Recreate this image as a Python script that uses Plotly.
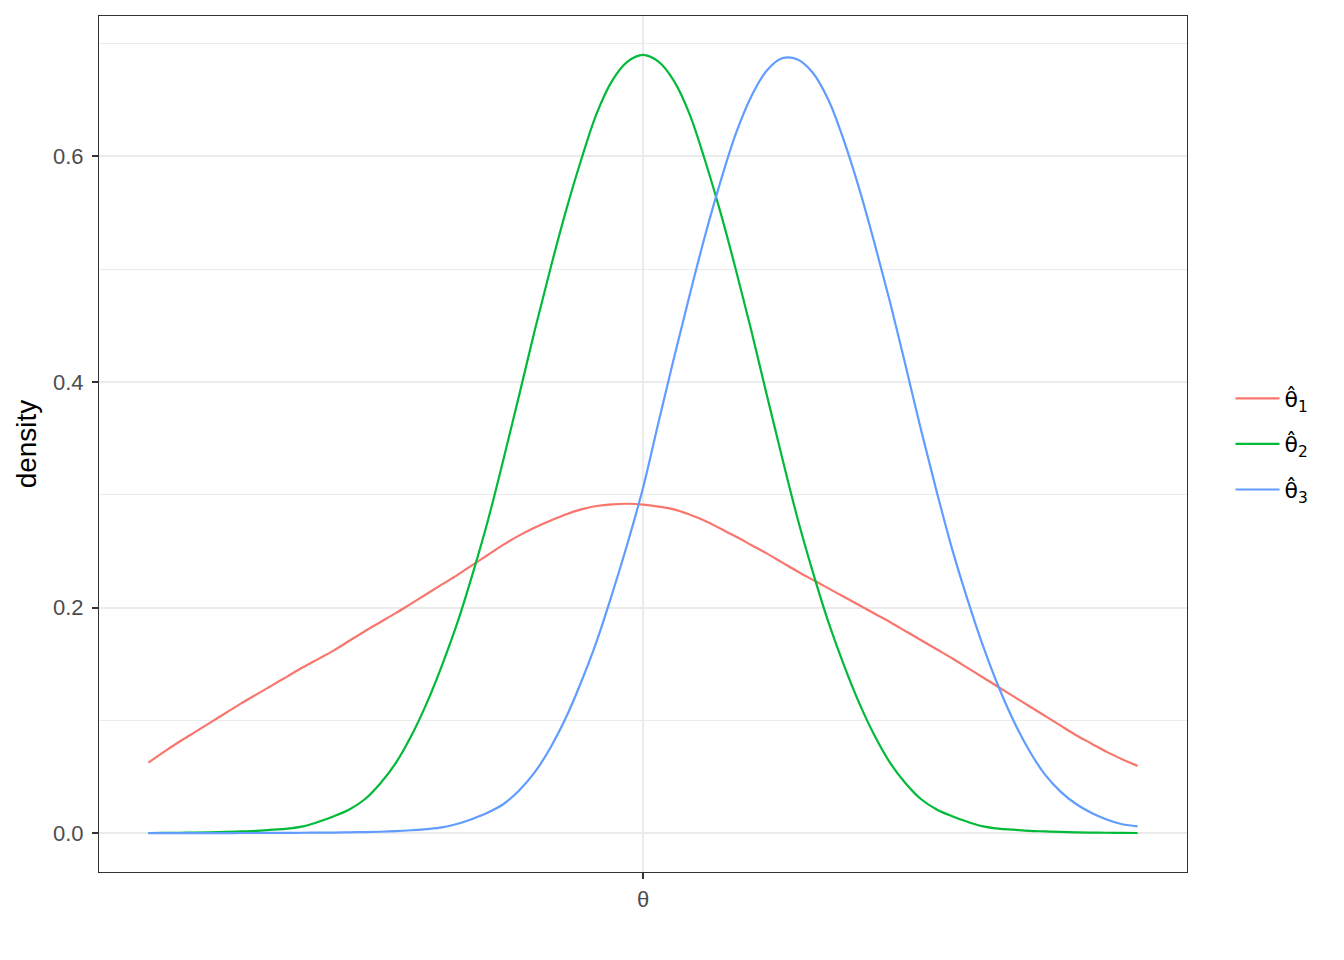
import plotly.graph_objects as go

# values (x in arbitrary units, theta at 0)
x_vals = [-4.0, -3.875, -3.75, -3.625, -3.5, -3.375, -3.25, -3.125, -3.0, -2.875, -2.75,
          -2.625, -2.5, -2.375, -2.25, -2.125, -2.0, -1.875, -1.75, -1.625, -1.5, -1.375,
          -1.25, -1.125, -1.0, -0.875, -0.75, -0.625, -0.5, -0.375, -0.25, -0.125, 0.0,
          0.125, 0.25, 0.375, 0.5, 0.625, 0.75, 0.875, 1.0, 1.125, 1.25, 1.375, 1.5,
          1.625, 1.75, 1.875, 2.0, 2.125, 2.25, 2.375, 2.5, 2.625, 2.75, 2.875, 3.0,
          3.125, 3.25, 3.375, 3.5, 3.625, 3.75, 3.875, 4.0]

theta1 = [0.0625, 0.072, 0.081, 0.0895, 0.098, 0.1065, 0.115, 0.123, 0.131, 0.139, 0.147,
          0.1545, 0.162, 0.1705, 0.179, 0.187, 0.195, 0.2035, 0.212, 0.2205, 0.229, 0.238,
          0.247, 0.256, 0.264, 0.271, 0.277, 0.2825, 0.287, 0.290, 0.2915, 0.292, 0.2913,
          0.2895, 0.287, 0.2825, 0.277, 0.270, 0.263, 0.2555, 0.248, 0.240, 0.232, 0.2245, 0.217,
          0.2095, 0.202, 0.1945, 0.187, 0.179, 0.171, 0.163, 0.155, 0.1465, 0.138, 0.1295, 0.121,
          0.1125, 0.104, 0.0955, 0.087, 0.0795, 0.072, 0.0655, 0.0596]

theta2 = [0.0001, 0.0002, 0.0003, 0.0005, 0.0007, 0.001, 0.0015, 0.002, 0.003, 0.004, 0.006,
          0.010, 0.015, 0.021, 0.030, 0.044, 0.062, 0.086, 0.115, 0.149, 0.187, 0.231,
          0.279, 0.333, 0.389, 0.446, 0.500, 0.551, 0.597, 0.638, 0.667, 0.684, 0.690,
          0.684, 0.667, 0.638, 0.597, 0.551, 0.500, 0.446, 0.389, 0.333, 0.279, 0.231, 0.187,
          0.149, 0.115, 0.086, 0.062, 0.044, 0.030, 0.021, 0.015, 0.010, 0.006, 0.004, 0.003,
          0.002, 0.0015, 0.001, 0.0007, 0.0005, 0.0003, 0.0002, 0.0001]

theta3 = [0.0, 0.0, 0.0, 0.0, 0.0, 0.0, 0.0001, 0.0001, 0.0002, 0.0002, 0.0003,
          0.0004, 0.0005, 0.0007, 0.0009, 0.0012, 0.0017, 0.0025, 0.0035, 0.005, 0.0083, 0.0128,
          0.0184, 0.026, 0.038, 0.054, 0.0755, 0.102, 0.134, 0.170, 0.212, 0.257, 0.306,
          0.364, 0.421, 0.476, 0.529, 0.577, 0.620, 0.653, 0.676, 0.687, 0.686, 0.674, 0.650,
          0.614, 0.571, 0.522, 0.470, 0.414, 0.357, 0.303, 0.252, 0.207, 0.166, 0.130, 0.099,
          0.073, 0.052, 0.037, 0.026, 0.018, 0.012, 0.0078, 0.006]

names = ['θ̂<sub>1</sub>', 'θ̂<sub>2</sub>', 'θ̂<sub>3</sub>']
colors = ['#F8766D', '#00BA38', '#619CFF']

fig = go.Figure()
for i, (name, ys, col) in enumerate(zip(names, [theta1, theta2, theta3], colors)):
    fig.add_trace(go.Scatter(
        x=x_vals,
        y=ys,
        mode='lines',
        name=name,
        legendgroup='g%d' % i,
        line=dict(color=col, width=2.2, shape='spline', smoothing=1.0)
    ))

fig.update_layout(
    width=1344,
    height=960,
    margin=dict(l=91, r=165, t=8, b=96),
    plot_bgcolor='white',
    paper_bgcolor='white',
    font=dict(family='Liberation Sans, Arial', color='black'),
    showlegend=True,
    legend=dict(x=1.04, xanchor='left', y=0.5, yanchor='middle',
                font=dict(size=22, color='black', family='DejaVu Sans'),
                itemwidth=44,
                bgcolor='rgba(0,0,0,0)', tracegroupgap=14),
    xaxis=dict(
        range=[-4.4, 4.4],
        tickvals=[0],
        ticktext=['θ'],
        tickfont=dict(size=22, color='#4D4D4D'),
        ticks='outside', ticklen=6, tickcolor='#333333', tickwidth=1.5,
        ticklabelstandoff=2,
        showgrid=True, gridcolor='#EBEBEB', gridwidth=1.5,
        zeroline=False,
        showline=True, linecolor='#333333', linewidth=1, mirror=True,
    ),
    yaxis=dict(
        range=[-0.0345, 0.7245],
        tickvals=[0, 0.2, 0.4, 0.6],
        ticktext=['0.0', '0.2', '0.4', '0.6'],
        tickfont=dict(size=22, color='#4D4D4D'),
        ticks='outside', ticklen=6, tickcolor='#333333', tickwidth=1.5,
        ticklabelstandoff=4,
        showgrid=True, gridcolor='#EBEBEB', gridwidth=1.5,
        minor=dict(tickvals=[0.1, 0.3, 0.5, 0.7], showgrid=True,
                   gridcolor='#EBEBEB', gridwidth=0.8, ticks=''),
        zeroline=False,
        showline=True, linecolor='#333333', linewidth=1, mirror=True,
        title=dict(text='density', font=dict(size=28, color='black'), standoff=8),
    ),
)

fig.write_html("out.html")
